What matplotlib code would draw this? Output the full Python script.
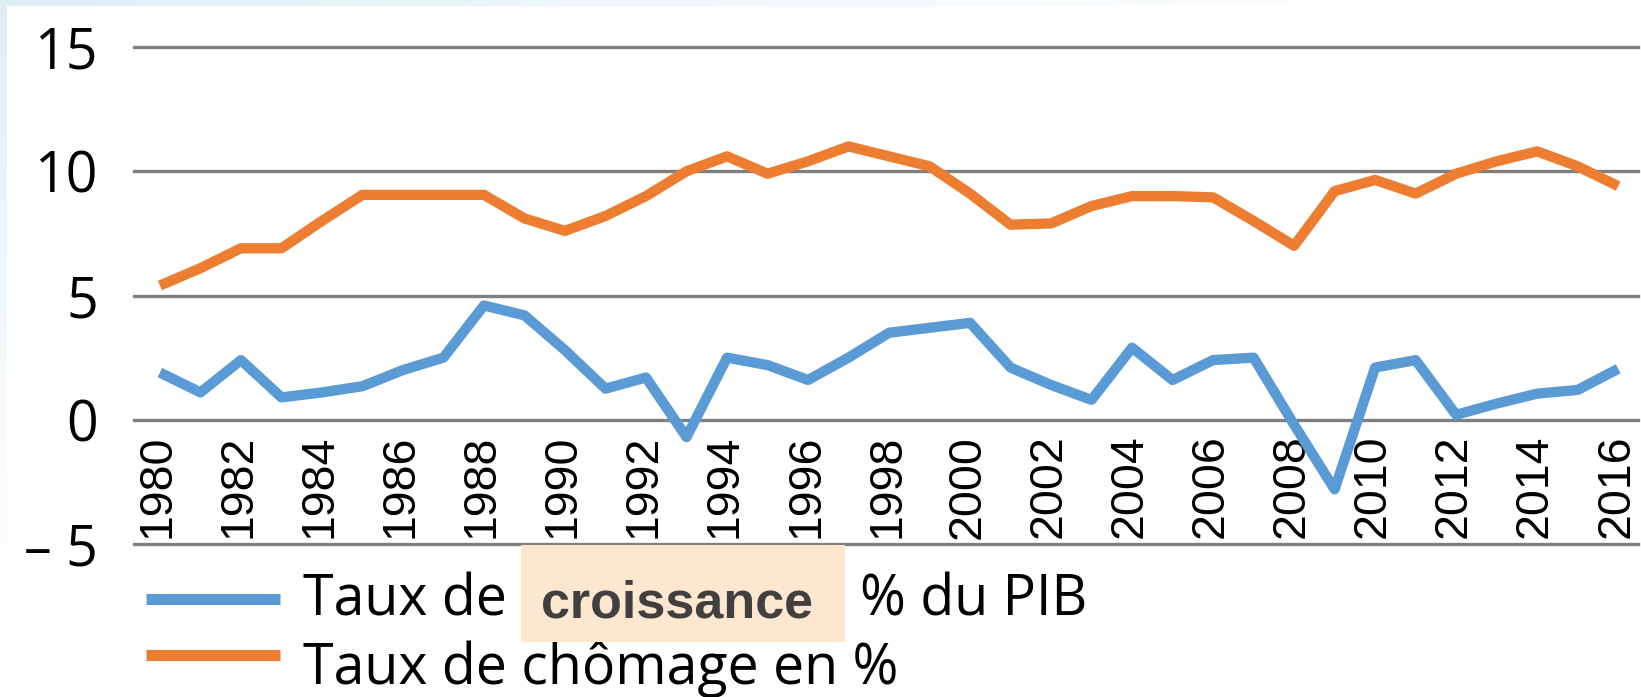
import numpy as np
import matplotlib as mpl
mpl.use("Agg")
import matplotlib.pyplot as plt
from matplotlib.lines import Line2D
from matplotlib.patches import Rectangle

# values
years = list(range(1980, 2017))
croissance = [1.9, 1.1, 2.4, 0.9, 1.1, 1.35, 2.0, 2.5, 4.6, 4.2,
              2.8, 1.25, 1.7, -0.7, 2.5, 2.2, 1.6, 2.5, 3.5, 3.7,
              3.9, 2.1, 1.4, 0.8, 2.9, 1.6, 2.4, 2.5, -0.2, -2.8,
              2.1, 2.4, 0.2, 0.65, 1.05, 1.2, 2.05]
chomage = [5.4, 6.1, 6.9, 6.9, 8.0, 9.05, 9.05, 9.05, 9.05, 8.1,
           7.6, 8.2, 9.0, 10.0, 10.6, 9.9, 10.4, 11.0, 10.6, 10.2,
           9.1, 7.85, 7.9, 8.6, 9.0, 9.0, 8.95, 8.0, 7.0, 9.2,
           9.65, 9.1, 9.9, 10.4, 10.8, 10.2, 9.4]
y_ticks = [-5, 0, 5, 10, 15]
y_labels = ['\u2013 5', '0', '5', '10', '15']
x_label_years = years[::2]

W, H = 1641, 697
BLUE = '#5b9bd5'
ORANGE = '#ed7d31'
GRID = '#7f7f7f'

fig = plt.figure(figsize=(W / 100, H / 100), dpi=100)

# pale blue frame on top / left edges
bg = fig.add_axes([0, 0, 1, 1], zorder=-10)
bg.axis('off')
img = np.ones((H, W, 3))
tint = np.array([0.87, 0.93, 0.96])
xs = np.linspace(1, 0, W) ** 1.5
ys = np.linspace(1, 0, H) ** 1.5
img[:6, :, :] = 1 - np.outer(np.ones(6), xs)[..., None] * (1 - tint)
img[:, :7, :] = 1 - np.outer(ys, np.ones(7))[..., None] * (1 - tint)
bg.imshow(img, aspect='auto', extent=[0, 1, 0, 1])
bg.set_xlim(0, 1)
bg.set_ylim(0, 1)

ax = fig.add_axes([134 / W, (H - 544) / H, (1638 - 134) / W, (544 - 47) / H])
ax.set_facecolor('none')
for s in ax.spines.values():
    s.set_visible(False)

for v in y_ticks:
    ax.axhline(v, color=GRID, lw=2.4, clip_on=False, zorder=1)

ax.plot(years, croissance, color=BLUE, lw=7.4, solid_capstyle='butt',
        solid_joinstyle='round', zorder=3)
ax.plot(years, chomage, color=ORANGE, lw=7.4, solid_capstyle='butt',
        solid_joinstyle='round', zorder=3)

ax.set_xlim(1979.36, 2016.49)
ax.set_ylim(-5, 15)
ax.set_xticks([])
ax.set_yticks(y_ticks)
ax.set_yticklabels(y_labels, fontsize=40, fontfamily='Open Sans')
ax.tick_params(axis='y', length=0, pad=26)

for yr in x_label_years:
    ax.text(yr - 0.05, -0.6, str(yr), rotation=90, ha='center', va='top',
            fontsize=33.5, fontfamily='Liberation Sans', zorder=2)

# legend
def fx(px):
    return px / W

def fy(py):
    return 1 - py / H

fig.add_artist(Line2D([fx(146), fx(280)], [fy(599), fy(599)], color=BLUE,
                      lw=8, solid_capstyle='butt'))
fig.add_artist(Line2D([fx(146), fx(280)], [fy(655), fy(655)], color=ORANGE,
                      lw=8, solid_capstyle='butt'))
fig.text(fx(303), fy(615), 'Taux de', fontsize=40, fontfamily='Open Sans',
         va='baseline', ha='left')
fig.text(fx(303), fy(684), 'Taux de chômage en %', fontsize=40,
         fontfamily='Open Sans', va='baseline', ha='left')
fig.text(fx(860), fy(615), '% du PIB', fontsize=40, fontfamily='Open Sans',
         va='baseline', ha='left')

fig.add_artist(Rectangle((fx(521), fy(642)), fx(845) - fx(521),
                         fy(545) - fy(642), transform=fig.transFigure,
                         facecolor='#fee7cf', edgecolor='none', zorder=5))
fig.text(fx(541), fy(617), 'croissance', fontsize=37.5, fontweight='bold',
         fontfamily='Liberation Sans', color='#404040', va='baseline',
         ha='left', zorder=6)

fig.savefig('out.png', dpi=100)
